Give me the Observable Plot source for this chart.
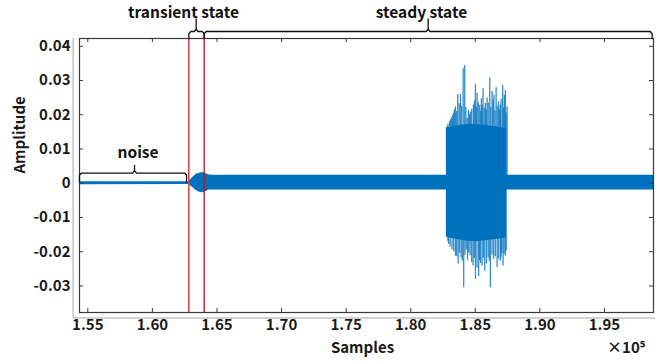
<!DOCTYPE html>
<html><head><meta charset="utf-8">
<script src="https://cdn.jsdelivr.net/npm/d3@7"></script>
<script src="https://cdn.jsdelivr.net/npm/@observablehq/plot@0.6"></script>
<style>body{margin:0;background:#fff}</style>
</head><body><div id="chart"></div>
<script>
// ---- data ----
const xTicks = [155000, 160000, 165000, 170000, 175000, 180000, 185000, 190000, 195000];
const yTicks = [-0.03, -0.02, -0.01, 0, 0.01, 0.02, 0.03, 0.04];
const xDomain = [154357, 198795];
const yDomain = [-0.03775, 0.04227];

// signal envelope (sample index, upper, lower)
const envX  = [154357, 162820, 163100, 163400, 163700, 163950, 164150, 164400, 164700, 182760, 182760, 183300, 184000, 184600, 185200, 185900, 186600, 187410, 187410, 198795];
const envHi = [0.00045, 0.0004, 0.0016, 0.0026, 0.0030, 0.0031, 0.0028, 0.0024, 0.0023, 0.0023, 0.0161, 0.0166, 0.0170, 0.0172, 0.0171, 0.0168, 0.0165, 0.0160, 0.0023, 0.0023];
const envLo = [-0.00045, -0.0004, -0.0012, -0.0021, -0.0027, -0.0028, -0.0024, -0.0020, -0.0020, -0.0020, -0.0158, -0.0162, -0.0167, -0.0170, -0.0170, -0.0167, -0.0164, -0.0160, -0.0020, -0.0020];

// burst spikes (peaks above the envelope)
const spikeUpX = [182818, 182880, 183000, 183080, 183150, 183230, 183300, 183380, 183460, 183550, 183640, 183750, 183850, 183950, 184060, 184180, 184270, 184370, 184470, 184540, 184620, 184720, 184850, 184930, 185010, 185070, 185140, 185230, 185340, 185420, 185470, 185530, 185600, 185690, 185780, 185850, 185910, 186000, 186120, 186200, 186300, 186370, 186440, 186520, 186610, 186700, 186810, 186870, 186940, 187000, 187120, 187190, 187250, 187330, 187390, 187460];
const spikeUpY = [0.0165, 0.0172, 0.0179, 0.0185, 0.0190, 0.0197, 0.0204, 0.0215, 0.0223, 0.0210, 0.0259, 0.0232, 0.0259, 0.0225, 0.0334, 0.0344, 0.0221, 0.0190, 0.0213, 0.0200, 0.0208, 0.0215, 0.0228, 0.0240, 0.0288, 0.0222, 0.0262, 0.0235, 0.0228, 0.0210, 0.0247, 0.0226, 0.0276, 0.0219, 0.0233, 0.0213, 0.0249, 0.0234, 0.0307, 0.0221, 0.0268, 0.0243, 0.0257, 0.0212, 0.0279, 0.0225, 0.0237, 0.0214, 0.0228, 0.0245, 0.0286, 0.0220, 0.0257, 0.0271, 0.0205, 0.0223];
const spikeDnX = [182870, 182940, 183050, 183200, 183330, 183460, 183560, 183670, 183780, 183900, 183990, 184100, 184200, 184300, 184400, 184490, 184600, 184720, 184830, 184920, 185010, 185130, 185260, 185330, 185400, 185530, 185630, 185730, 185860, 185990, 186080, 186170, 186300, 186420, 186550, 186690, 186800, 186940, 187000, 187050, 187150, 187230, 187330, 187390];
const spikeDnY = [-0.0170, -0.0179, -0.0186, -0.0194, -0.0200, -0.0213, -0.0215, -0.0236, -0.0205, -0.0218, -0.0228, -0.0305, -0.0210, -0.0195, -0.0225, -0.0204, -0.0212, -0.0232, -0.0242, -0.0220, -0.0281, -0.0248, -0.0272, -0.0226, -0.0235, -0.0242, -0.0219, -0.0257, -0.0236, -0.0218, -0.0228, -0.0305, -0.0210, -0.0223, -0.0215, -0.0247, -0.0222, -0.0228, -0.0216, -0.0205, -0.0242, -0.0208, -0.0213, -0.0198];

// state boundaries (red lines)
const boundaries = [162820, 164010];

// annotations: [x1, x2, xMid, yEnd, yBar, yTop]
const topBrackets = [
  [162820, 164010, 163390, 0.04227, 0.04431, 0.04802],
  [164010, 198690, 181350, 0.04227, 0.04431, 0.04802]
];
const noiseBracket = [154357, 162645, 158617, 0.00035, 0.00298, 0.00522];
const labelText = ["transient state", "steady state", "noise"];
const labelX = [162407, 180828, 158889];
const labelY = [0.04830, 0.04830, 0.00735];

// grey offset box lines
const greyX = 153869, greyRight = 198974, greyBottom = -0.03932;

// ---- build ----
const BLUE = "#0072BD";
const env = envX.map((x, i) => ({x, hi: envHi[i], lo: envLo[i]}));
const ups = spikeUpX.map((x, i) => ({x, y: spikeUpY[i]}));
const dns = spikeDnX.map((x, i) => ({x, y: spikeDnY[i]}));

const c = 0.00065, d = 150;
function bracketPaths(b, id) {
  const [x1, x2, xm, ye, yb, yt] = b;
  const left = [[x1, ye], [x1, yb - c], [x1 + d, yb], [xm - d, yb], [xm, yb + c], [xm, yt]];
  const right = [[x2, ye], [x2, yb - c], [x2 - d, yb], [xm + d, yb], [xm, yb + c]];
  return [...left.map(p => ({x: p[0], y: p[1], k: id + "L"})), ...right.map(p => ({x: p[0], y: p[1], k: id + "R"}))];
}
const brPts = [
  ...bracketPaths(topBrackets[0], "t"),
  ...bracketPaths(topBrackets[1], "s"),
  ...bracketPaths(noiseBracket, "n")
];
const labels = labelText.map((t, i) => ({t, x: labelX[i], y: labelY[i]}));

const W = 665, H = 364, mL = 79, mR = 12, mT = 38, mB = 52;
const fw = W - mL - mR, fh = H - mT - mB;
const FONT = "'Noto Sans CJK SC', 'Noto Sans', sans-serif";

const chart = Plot.plot({
  width: W, height: H,
  marginLeft: mL, marginRight: mR, marginTop: mT, marginBottom: mB,
  style: {fontFamily: FONT, fontSize: "15px", fontWeight: "bold", color: "#1a1a1a", background: "#fff", overflow: "visible"},
  x: {domain: xDomain},
  y: {domain: yDomain},
  marks: [
    // grey offset lines
    Plot.ruleX([greyX], {x: d => d, y1: greyBottom, y2: yDomain[1], stroke: "#c4c4c4", strokeWidth: 1.5}),
    Plot.ruleY([greyBottom], {y: d => d, x1: greyX, x2: greyRight, stroke: "#c4c4c4", strokeWidth: 1.5}),
    // signal
    Plot.areaY(env, {x: "x", y1: "lo", y2: "hi", fill: BLUE}),
    Plot.ruleX(ups, {x: "x", y1: 0, y2: "y", stroke: BLUE, strokeWidth: 1.3, strokeOpacity: 0.8}),
    Plot.ruleX(dns, {x: "x", y1: 0, y2: "y", stroke: BLUE, strokeWidth: 1.3, strokeOpacity: 0.8}),
    // red boundary lines
    Plot.ruleX([boundaries[0]], {x: d => d, stroke: "#d93a3a", strokeWidth: 1.5}),
    Plot.ruleX([boundaries[1]], {x: d => d, stroke: "#b81414", strokeWidth: 1.3}),
    // frame and inward ticks
    Plot.frame({stroke: "#3a3a3a", strokeWidth: 1.2}),
    Plot.gridX(xTicks, {insetTop: fh - 4, stroke: "#3a3a3a", strokeOpacity: 1, strokeWidth: 1}),
    Plot.gridX(xTicks, {insetBottom: fh - 4, stroke: "#3a3a3a", strokeOpacity: 1, strokeWidth: 1}),
    Plot.gridY(yTicks, {insetRight: fw - 4, stroke: "#3a3a3a", strokeOpacity: 1, strokeWidth: 1}),
    Plot.gridY(yTicks, {insetLeft: fw - 4, stroke: "#3a3a3a", strokeOpacity: 1, strokeWidth: 1}),
    // tick labels
    Plot.axisX(xTicks, {tickSize: 0, tickPadding: 7, tickFormat: v => (v / 1e5).toFixed(2), label: null, fontSize: 15, fontWeight: "bold"}),
    Plot.axisY(yTicks, {tickSize: 0, tickPadding: 9, tickFormat: v => v === 0 ? "0" : v.toFixed(2), label: null, fontSize: 15, fontWeight: "bold"}),
    // axis titles
    Plot.text(["Amplitude"], {frameAnchor: "left", dx: -59, dy: -2, rotate: -90, fontSize: 15, fontWeight: "bold", fill: "#1a1a1a"}),
    Plot.text(["Samples"], {frameAnchor: "bottom", dx: -4, dy: 40, lineAnchor: "bottom", fontSize: 15, fontWeight: "bold", fill: "#1a1a1a"}),
    Plot.text(["×10⁵"], {frameAnchor: "bottom-right", dx: -8, dy: 40, lineAnchor: "bottom", textAnchor: "end", fontSize: 15, fontWeight: "bold", fill: "#1a1a1a"}),
    // brackets and labels
    Plot.line(brPts, {x: "x", y: "y", z: "k", stroke: "#111", strokeWidth: 1.3}),
    Plot.text(labels, {x: "x", y: "y", text: "t", lineAnchor: "bottom", fontSize: 15.5, fontWeight: "bold", fill: "#111"})
  ]
});
document.getElementById("chart").appendChild(chart);
</script>
</body></html>
